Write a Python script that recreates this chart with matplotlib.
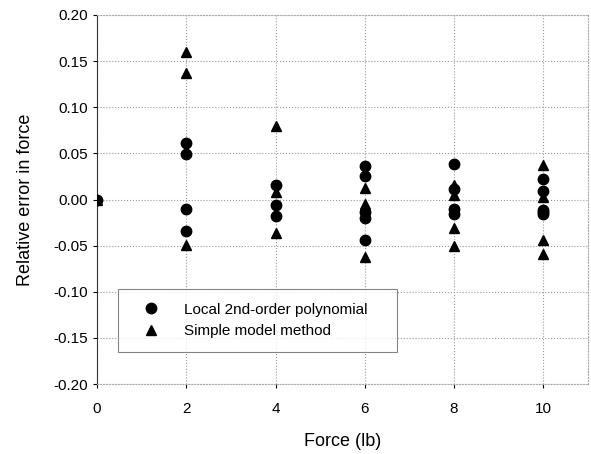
import numpy as np
import matplotlib
matplotlib.use("Agg")
import matplotlib.pyplot as plt
from matplotlib.ticker import FormatStrFormatter

plt.rcParams['font.family'] = ['Liberation Sans', 'DejaVu Sans']
plt.rcParams['axes.unicode_minus'] = False

# Local 2nd-order polynomial (circles)
poly_force = [0, 2, 2, 2, 2, 4, 4, 4, 6, 6, 6, 6, 6, 8, 8, 8, 8, 10, 10, 10, 10, 10]
poly_error = [0.000, 0.061, 0.049, -0.010, -0.034,
              0.016, -0.006, -0.018,
              0.036, 0.025, -0.013, -0.020, -0.044,
              0.039, 0.011, -0.010, -0.016,
              0.022, 0.009, -0.011, -0.016, -0.014]

# Simple model method (triangles)
simple_force = [0, 2, 2, 2, 4, 4, 4, 6, 6, 6, 8, 8, 8, 8, 10, 10, 10, 10]
simple_error = [0.000, 0.160, 0.137, -0.049,
                0.080, 0.008, -0.036,
                0.013, -0.005, -0.062,
                0.016, 0.005, -0.031, -0.050,
                0.037, 0.003, -0.044, -0.059]

x_ticks = [0, 2, 4, 6, 8, 10]
y_ticks = [-0.20, -0.15, -0.10, -0.05, 0.00, 0.05, 0.10, 0.15, 0.20]

fig = plt.figure(figsize=(5.91, 4.54), dpi=100)
ax = fig.add_axes([0.164, 0.154, 0.831, 0.813])

ax.plot(poly_force, poly_error, 'o', color='black', markersize=7.5,
        label='Local 2nd-order polynomial', zorder=3)
ax.plot(simple_force, simple_error, '^', color='black', markersize=7.5,
        label='Simple model method', zorder=3)

ax.set_xlim(0, 11)
ax.set_ylim(-0.20, 0.20)
ax.set_xticks(x_ticks)
ax.set_yticks(y_ticks)
ax.yaxis.set_major_formatter(FormatStrFormatter('%.2f'))
ax.tick_params(labelsize=11, length=3, direction='out')
ax.tick_params(axis='x', pad=10)

ax.grid(True, linestyle=':', color='#999999', linewidth=0.8)
for side in ['top', 'right', 'bottom']:
    ax.spines[side].set_color('#aaaaaa')
    ax.spines[side].set_linestyle(':')
ax.spines['left'].set_color('#333333')

ax.set_xlabel('Force (lb)', fontsize=13, labelpad=12)
ax.set_ylabel('Relative error in force', fontsize=13, labelpad=14)

leg = ax.legend(loc='lower left', bbox_to_anchor=(0.043, 0.087, 0.567, 0.176),
                mode='expand', fontsize=11, frameon=True, fancybox=False,
                handletextpad=0.9, borderpad=0.9, labelspacing=0.5,
                handlelength=2.5, borderaxespad=0)
leg.get_frame().set_edgecolor('#666666')
leg.get_frame().set_linewidth(0.8)

fig.savefig('out.png', dpi=100)
